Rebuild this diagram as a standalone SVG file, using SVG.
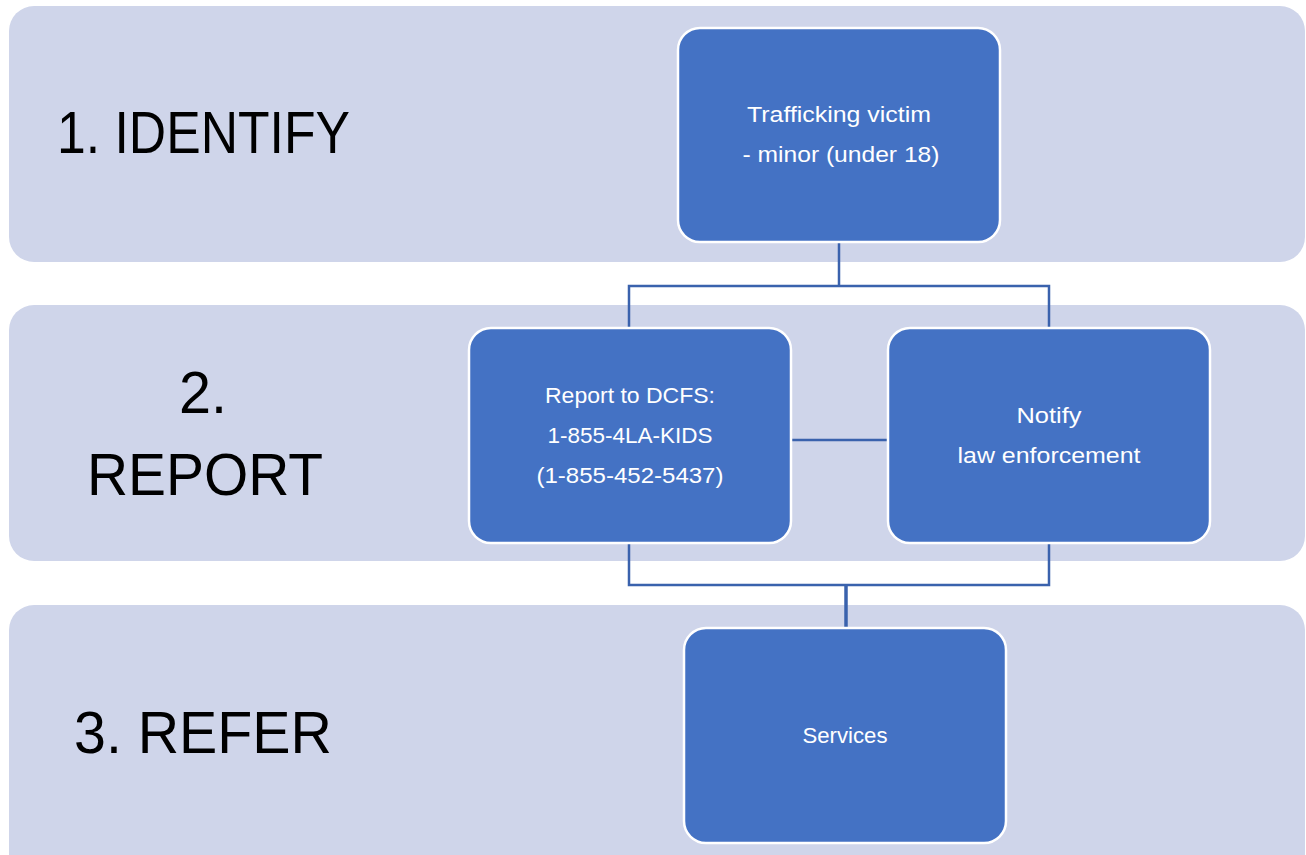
<svg xmlns="http://www.w3.org/2000/svg" width="1306" height="855" viewBox="0 0 1306 855">
  <style>
    .band { fill: #CFD5EA; }
    .node { fill: #4472C4; stroke: #FFFFFF; stroke-width: 2.5; }
    .big { font-family: "Liberation Sans", Arial, sans-serif; font-size: 60px; fill: #000000; }
    .lbl { font-family: "Liberation Sans", Arial, sans-serif; font-size: 22px; fill: #FFFFFF; }
    .conn { fill: none; stroke: #3A62AD; stroke-width: 2.5; }
  </style>
  <rect width="1306" height="855" fill="#FFFFFF"/>
  <g id="band-identify">
    <rect class="band" x="9" y="6" width="1296" height="256" rx="25" ry="25"/>
    <text class="big" x="57" y="153" textLength="293" lengthAdjust="spacingAndGlyphs">1. IDENTIFY</text>
  </g>
  <g id="band-report">
    <rect class="band" x="9" y="305" width="1296" height="256" rx="25" ry="25"/>
    <text class="big" x="179" y="413" textLength="48" lengthAdjust="spacingAndGlyphs">2.</text>
    <text class="big" x="87" y="495" textLength="236" lengthAdjust="spacingAndGlyphs">REPORT</text>
  </g>
  <g id="band-refer">
    <rect class="band" x="9" y="605" width="1296" height="280" rx="25" ry="25"/>
    <text class="big" x="74" y="753" textLength="258" lengthAdjust="spacingAndGlyphs">3. REFER</text>
  </g>
  <g id="connectors">
    <path class="conn" d="M839,242 V286 M629,328 V286 H1049 V328"/>
    <path class="conn" d="M791,440 H888"/>
    <path class="conn" d="M629,543 V585 H1049 V543"/>
    <path class="conn" d="M846,585 V628" style="stroke-width:3.5"/>
  </g>
  <g id="node-victim">
    <rect class="node" x="678" y="28" width="322" height="214" rx="22" ry="22"/>
    <text class="lbl" x="839" y="122" text-anchor="middle" textLength="184" lengthAdjust="spacingAndGlyphs">Trafficking victim</text>
    <text class="lbl" x="841" y="162" text-anchor="middle" textLength="197" lengthAdjust="spacingAndGlyphs">- minor (under 18)</text>
  </g>
  <g id="node-dcfs">
    <rect class="node" x="469" y="328" width="322" height="215" rx="22" ry="22"/>
    <text class="lbl" x="630" y="403" text-anchor="middle" textLength="170" lengthAdjust="spacingAndGlyphs">Report to DCFS:</text>
    <text class="lbl" x="630" y="443" text-anchor="middle" textLength="165" lengthAdjust="spacingAndGlyphs">1-855-4LA-KIDS</text>
    <text class="lbl" x="630" y="483" text-anchor="middle" textLength="187" lengthAdjust="spacingAndGlyphs">(1-855-452-5437)</text>
  </g>
  <g id="node-law">
    <rect class="node" x="888" y="328" width="322" height="215" rx="22" ry="22"/>
    <text class="lbl" x="1049" y="423" text-anchor="middle" textLength="65" lengthAdjust="spacingAndGlyphs">Notify</text>
    <text class="lbl" x="1049" y="463" text-anchor="middle" textLength="183" lengthAdjust="spacingAndGlyphs">law enforcement</text>
  </g>
  <g id="node-services">
    <rect class="node" x="684" y="628" width="322" height="215" rx="22" ry="22"/>
    <text class="lbl" x="845" y="743" text-anchor="middle" textLength="85" lengthAdjust="spacingAndGlyphs">Services</text>
  </g>
</svg>
